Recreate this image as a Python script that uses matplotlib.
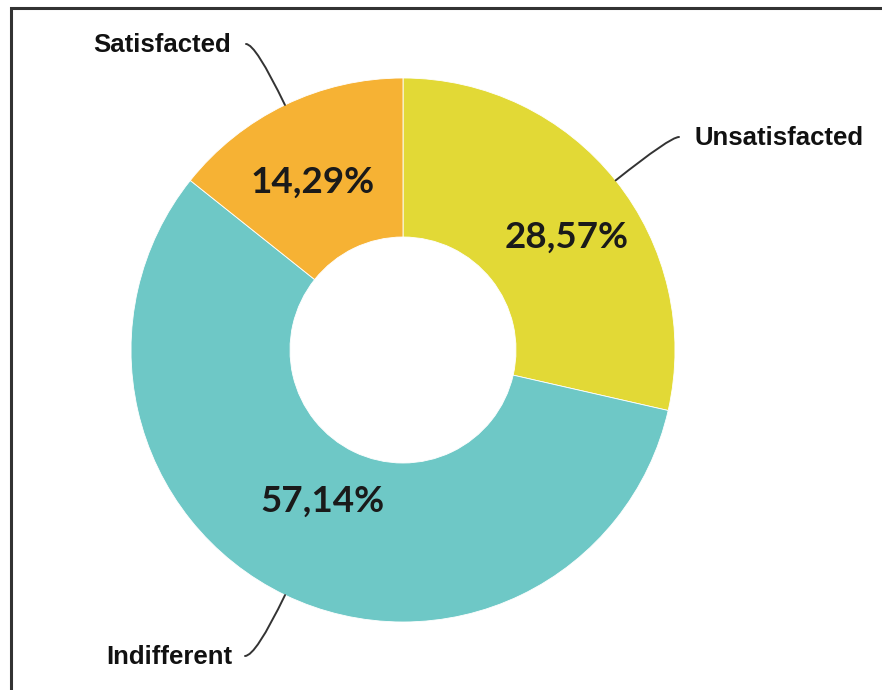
import numpy as np
import matplotlib.pyplot as plt
from matplotlib.patches import Rectangle

# satisfaction shares, clockwise from 12 o'clock
categories = ["Unsatisfacted", "Indifferent", "Satisfacted"]
shares = [28.57, 57.14, 14.29]
colors = ["#E2D936", "#6EC8C6", "#F6B234"]

W, H = 882, 690
CX, CY = 403, 340          # ring centre (pixels, y up)
R_OUT, R_IN = 272, 113

fig = plt.figure(figsize=(W / 100, H / 100), dpi=100)
fig.patch.set_facecolor("white")
ax = fig.add_axes([0, 0, 1, 1])

# frame (only top and left edges are inside the image)
ax.add_patch(Rectangle((11, -20), W + 40, H - 8 + 20, fill=False,
                       edgecolor="#333333", linewidth=2.2, zorder=1))

wedges, _ = ax.pie(
    shares,
    colors=colors,
    startangle=90,
    counterclock=False,
    center=(CX, CY),
    radius=R_OUT,
    wedgeprops=dict(width=R_OUT - R_IN, edgecolor="white", linewidth=0.6),
    frame=True,
)
ax.set_xlim(0, W)
ax.set_ylim(0, H)
ax.set_aspect("equal")
ax.set_axis_off()

# percentage labels inside the ring
pct_radius = [0.73, 0.63, 0.70]
pct_shift = [-4.0, -2.5, 2.5]
for w, v, rf, sh in zip(wedges, shares, pct_radius, pct_shift):
    ang = np.deg2rad((w.theta1 + w.theta2) / 2 + sh)
    x = CX + rf * R_OUT * np.cos(ang)
    y = CY + rf * R_OUT * np.sin(ang)
    ax.text(x, y, f"{v:.2f}".replace(".", ",") + "%", ha="center", va="center",
            fontsize=26.5, fontweight="bold", family="Lato", color="#1A1A1A",
            zorder=5)

# category labels with curved leader lines
label_xy = {
    "Unsatisfacted": (694, H - 138, "left", 679),
    "Indifferent": (232, H - 657, "right", 245),
    "Satisfacted": (231, H - 45, "right", 246),
}
for w, name in zip(wedges, categories):
    mid = (w.theta1 + w.theta2) / 2
    a = np.deg2rad(mid)
    px = CX + R_OUT * np.cos(a)
    py = CY + R_OUT * np.sin(a)
    tx, ty, ha, lx = label_xy[name]
    ax.text(tx, ty, name, ha=ha, va="center", fontsize=18.5,
            fontweight="bold", family="Liberation Sans", color="#111111",
            zorder=5)
    ax.annotate("", xy=(px, py), xytext=(lx, ty + 1),
                arrowprops=dict(arrowstyle="-", color="#333333", lw=1.4,
                                shrinkA=0, shrinkB=0,
                                connectionstyle=f"angle3,angleA=0,angleB={mid}"),
                zorder=4)

fig.savefig("out.png", dpi=100, facecolor="white")
